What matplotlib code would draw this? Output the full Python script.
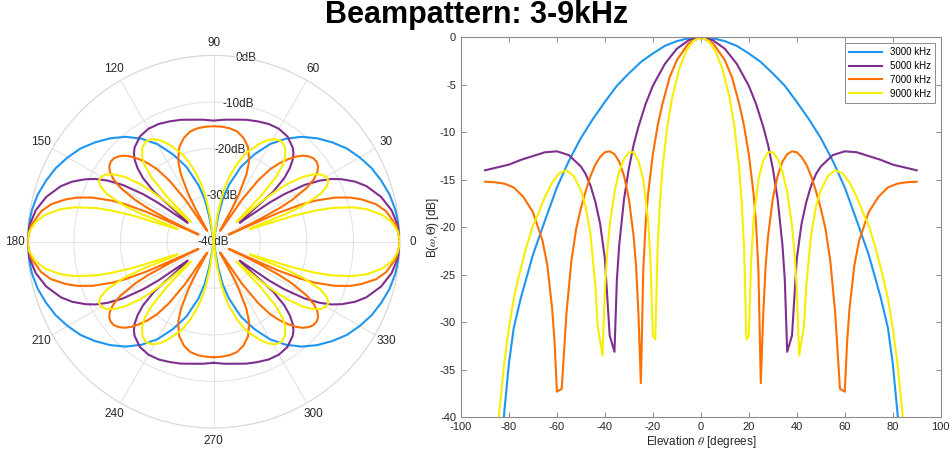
import numpy as np
import matplotlib
matplotlib.use("Agg")
import matplotlib.pyplot as plt

plt.rcParams['font.family'] = ['Liberation Sans', 'DejaVu Sans']
plt.rcParams['axes.unicode_minus'] = False
plt.rcParams['mathtext.fontset'] = 'stix'

# beampattern, elevation 0..90 deg (pattern is symmetric)
labels = ['3000 kHz', '5000 kHz', '7000 kHz', '9000 kHz']
colors = ['#1e96f0', '#7e2f8e', '#ff6e00', '#f7ef00']

el_3000 = [0, 5, 10, 15, 20, 25, 30, 35, 40, 45, 50, 55, 60, 65, 70, 75, 78, 80, 82, 84, 86, 88, 90]
db_3000 = [0, -0.1, -0.4, -0.9, -1.7, -2.6, -3.8, -5.1, -6.8, -8.6, -10.6, -13.0, -15.8,
           -19.3, -22.9, -27.4, -30.6, -34.3, -39.6, -46.0, -52.0, -58.0, -60.0]

el_5000 = [0, 5, 10, 15, 20, 23, 26, 28, 30, 32, 34, 35, 36, 38, 40, 42, 44, 46, 48, 50,
           55, 60, 65, 70, 75, 80, 85, 90]
db_5000 = [0, -0.3, -1.2, -2.8, -5.1, -7.0, -9.4, -11.3, -13.8, -17.0, -21.8, -25.5, -33.1,
           -31.4, -23.3, -19.6, -17.3, -15.6, -14.4, -13.6, -12.4, -12.0, -12.1, -12.5,
           -12.9, -13.4, -13.7, -14.0]

el_7000 = [0, 5, 10, 13, 16, 18, 20, 22, 23, 24, 25, 26, 27, 28, 30, 32, 34, 36, 38, 40, 42,
           44, 46, 48, 50, 52, 54, 56, 58, 60, 61, 62, 64, 66, 68, 70, 74, 78, 82, 86, 90]
db_7000 = [0, -0.6, -2.4, -4.2, -7.0, -9.3, -12.3, -16.5, -19.5, -24.5, -36.4, -29.2, -24.1,
           -21.0, -17.0, -14.6, -13.1, -12.3, -12.0, -12.1, -12.6, -13.4, -14.6, -16.2,
           -18.0, -20.2, -23.6, -29.0, -37.0, -37.3, -32.0, -28.5, -24.0, -21.4, -19.9,
           -18.4, -16.8, -15.8, -15.4, -15.25, -15.2]

el_9000 = [0, 3, 6, 9, 12, 14, 16, 17, 18, 19, 20, 21, 22, 24, 26, 28, 30, 32, 34, 36, 38,
           39, 40, 41, 43, 44, 46, 48, 50, 53, 56, 59, 62, 65, 68, 70, 73, 76, 78, 80, 82,
           84, 86, 88, 90]
db_9000 = [0, -0.35, -1.4, -3.3, -6.4, -9.4, -13.8, -17.2, -22.0, -31.8, -31.4, -23.5, -19.2,
           -15.0, -13.0, -12.1, -12.1, -12.8, -14.1, -16.3, -19.8, -22.5, -26.5, -33.5,
           -30.4, -26.0, -20.8, -17.8, -16.1, -14.6, -14.0, -14.3, -15.3, -16.8, -18.7,
           -19.8, -22.3, -25.3, -27.5, -30.6, -34.4, -39.4, -46.0, -55.0, -60.0]

halves = [(el_3000, db_3000), (el_5000, db_5000), (el_7000, db_7000), (el_9000, db_9000)]

r_ticks = [-40, -30, -20, -10, 0]
theta_ticks = list(range(0, 360, 30))


def mirror(el, db):
    el = np.array(el, dtype=float)
    db = np.array(db, dtype=float)
    return np.concatenate([-el[::-1], el[1:]]), np.concatenate([db[::-1], db[1:]])


curves = [mirror(el, db) for el, db in halves]

text_col = '#262626'
axis_col = '#8c8c8c'

fig = plt.figure(figsize=(9.53, 4.54), dpi=100)
fig.suptitle('Beampattern: 3-9kHz', fontsize=22, fontweight='bold', y=1.0)

# ---- polar view ----
ax1 = fig.add_axes([0.0287, 0.0572, 0.391, 0.8208], projection='polar')
for (el, db), c in zip(curves, colors):
    r = np.maximum(db, -40)
    theta = np.deg2rad(np.concatenate([el, 180 - el[::-1]]))
    ax1.plot(theta, np.concatenate([r, r[::-1]]), color=c, lw=1.5, zorder=3)
ax1.set_rlim(-40, 0)
ax1.set_rticks(r_ticks)
ax1.set_yticklabels([])
ax1.set_thetagrids(theta_ticks, [''] * len(theta_ticks))
for v in r_ticks:
    ax1.text(np.deg2rad(80), v, f'{v}dB', ha='center', va='center',
             fontsize=8.5, color=text_col, zorder=2)
for a in theta_ticks:
    ax1.text(np.deg2rad(a), 2.7, str(a), ha='center', va='center',
             fontsize=8.5, color=text_col)
ax1.grid(color='#e3e3e3', lw=0.8)
ax1.spines['polar'].set_color('#d9d9d9')
ax1.spines['polar'].set_linewidth(0.8)

# ---- cartesian view ----
ax2 = fig.add_axes([0.4837, 0.0808, 0.5034, 0.837])
for (el, db), c, lab in zip(curves, colors, labels):
    ax2.plot(el, db, color=c, lw=1.5, label=lab)
ax2.set_xlim(-100, 100)
ax2.set_ylim(-40, 0)
ax2.set_xticks(range(-100, 101, 20))
ax2.set_yticks(range(-40, 1, 5))
ax2.tick_params(direction='in', top=True, right=True, length=3.5, width=0.7,
                color=axis_col, labelcolor=text_col, labelsize=8)
for s in ax2.spines.values():
    s.set_color(axis_col)
    s.set_linewidth(0.8)
ax2.set_xlabel(r'Elevation $\theta$ [degrees]', fontsize=8.5, color=text_col, labelpad=1)
ax2.set_ylabel(r'B($\omega$,$\Theta$) [dB]', fontsize=8.5, color=text_col, labelpad=-1)
leg = ax2.legend(loc='upper right', fontsize=7, handlelength=3.4, fancybox=False,
                 framealpha=1, edgecolor=axis_col, borderaxespad=0.6, labelspacing=0.4)
leg.get_frame().set_linewidth(0.7)

plt.savefig('out.png', dpi=100)
